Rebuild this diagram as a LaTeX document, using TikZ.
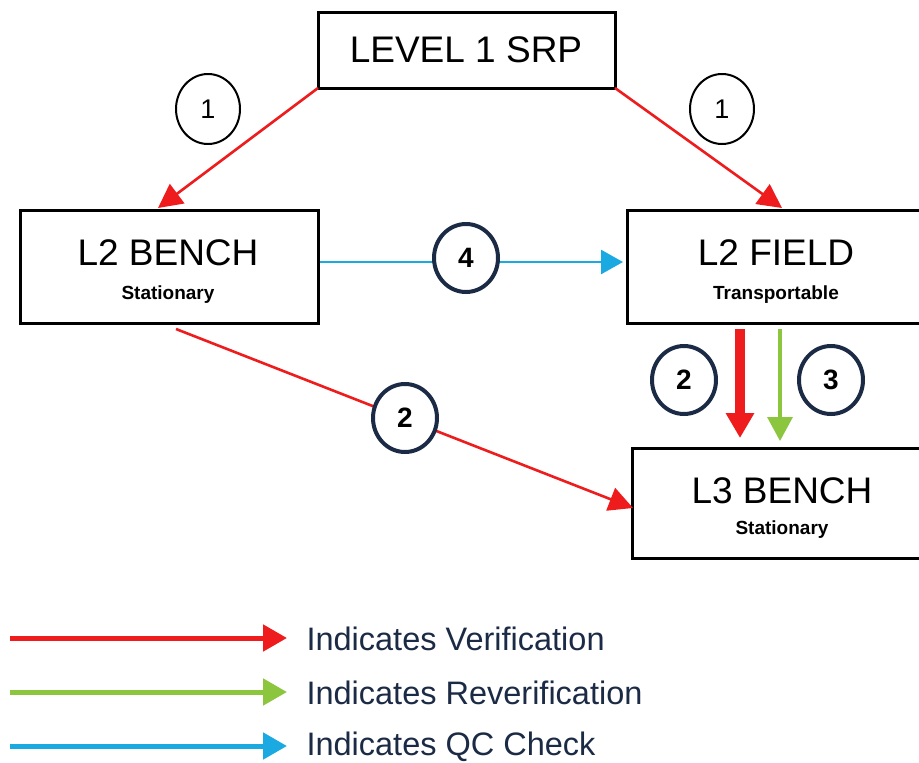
\documentclass[tikz,border=0pt]{standalone}
\usepackage{fontspec}
\setmainfont{Liberation Sans}
\usetikzlibrary{arrows.meta}
\definecolor{vred}{HTML}{EE1C1C}
\definecolor{vgreen}{HTML}{8CC63F}
\definecolor{vblue}{HTML}{1BA9E1}
\definecolor{navy}{HTML}{1C2B45}
\tikzset{
  lvlbox/.style={draw=black, line width=3pt, fill=white},
  title/.style={font=\fontsize{37}{40}\selectfont},
  sub/.style={font=\bfseries\fontsize{19}{22}\selectfont},
  numtxt/.style={font=\fontsize{27}{30}\selectfont},
  boldnum/.style={font=\bfseries\fontsize{28}{31}\selectfont},
  thinring/.style={draw=black, line width=2pt, fill=white},
  thickring/.style={draw=navy, line width=4pt, fill=white},
  redarr/.style={draw=vred, line width=2.6pt, -{Triangle[length=24pt,width=24pt]}},
  bluearr/.style={draw=vblue, line width=2.6pt, -{Triangle[length=22pt,width=24pt]}},
  legarr/.style={line width=5pt, -{Triangle[length=24pt,width=26pt]}},
  legtxt/.style={anchor=west, text=navy, font=\fontsize{32.5}{35}\selectfont},
}
\begin{document}
\begin{tikzpicture}[x=1pt,y=-1pt]
\useasboundingbox (0,0) rectangle (919,763);
\fill[white] (0,0) rectangle (919,763);

% boxes (the two on the right run past the page edge)
\draw[lvlbox] (318,12) rectangle (615,88);
\node[title] (srp) at (466,50) {LEVEL 1 SRP};
\coordinate (srpL) at (318,88);
\coordinate (srpR) at (615,88);

\draw[lvlbox] (20,210) rectangle (318,323);
\node[title] (bench2) at (168,253) {L2 BENCH};
\node[sub] (bench2s) at (168,295) {Stationary};

\draw[lvlbox] (627,210) rectangle (930,323);
\node[title] (field2) at (776,253) {L2 FIELD};
\node[sub] (field2s) at (776,295) {Transportable};

\draw[lvlbox] (632,448) rectangle (930,558);
\node[title] (bench3) at (782,491) {L3 BENCH};
\node[sub] (bench3s) at (782,530) {Stationary};

% connector end points on the box outlines
\coordinate (b2top) at (158,208);
\coordinate (f2top) at (782,208);
\coordinate (b2right) at (320,262);
\coordinate (f2left) at (623,262);
\coordinate (b2bot) at (176,329);
\coordinate (b3left) at (633,508);
\coordinate (f2botA) at (740,329);
\coordinate (b3topA) at (740,438);
\coordinate (f2botB) at (780,329);
\coordinate (b3topB) at (780,441);

% connectors
\draw[redarr] (srpL) -- (b2top);
\draw[redarr] (srpR) -- (f2top);
\draw[bluearr] (b2right) -- (f2left);
\draw[redarr] (b2bot) -- (b3left);
\draw[draw=vred, line width=10pt, -{Triangle[length=25pt,width=27pt]}] (f2botA) -- (b3topA);
\draw[draw=vgreen, line width=3.5pt, -{Triangle[length=24pt,width=25pt]}] (f2botB) -- (b3topB);

% numbered markers
\draw[thinring] (208,109) ellipse (32 and 35);
\node[numtxt] (n1a) at (208,109) {1};
\draw[thinring] (722,109) ellipse (32 and 35);
\node[numtxt] (n1b) at (722,109) {1};
\draw[thickring] (466,258) ellipse (32 and 34);
\node[boldnum] (n4) at (466,258) {4};
\draw[thickring] (405,418) ellipse (32 and 34);
\node[boldnum] (n2a) at (405,418) {2};
\draw[thickring] (684,380) ellipse (32 and 34);
\node[boldnum] (n2b) at (684,380) {2};
\draw[thickring] (831,380) ellipse (32 and 34);
\node[boldnum] (n3) at (831,380) {3};

% legend
\coordinate (l1a) at (10,638);  \coordinate (l1b) at (287,638);
\coordinate (l2a) at (10,692);  \coordinate (l2b) at (287,692);
\coordinate (l3a) at (10,746);  \coordinate (l3b) at (287,746);
\draw[legarr, draw=vred] (l1a) -- (l1b);
\draw[legarr, draw=vgreen] (l2a) -- (l2b);
\draw[legarr, draw=vblue] (l3a) -- (l3b);
\node[legtxt] (lg1) at (303,639) {Indicates Verification};
\node[legtxt] (lg2) at (303,693) {Indicates Reverification};
\node[legtxt] (lg3) at (303,747) {Indicates QC Check};
\end{tikzpicture}
\end{document}
